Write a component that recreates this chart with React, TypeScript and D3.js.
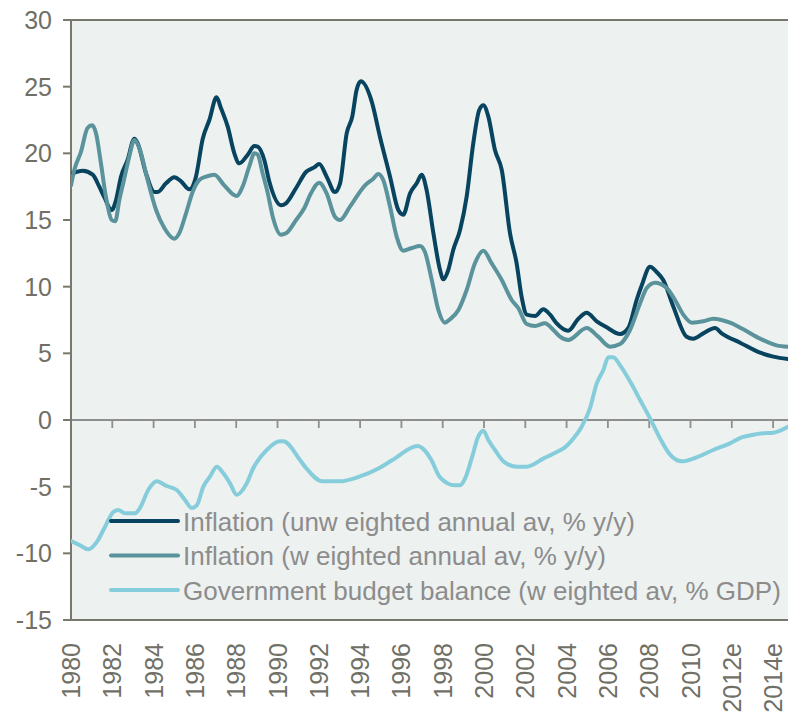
import React from "react";
import * as d3 from "d3";

// Unweighted inflation (% y/y)
const unwYears = [1980, 1980.57, 1981.05, 1981.37, 1981.6, 1981.97, 1982.18, 1982.42, 1982.74, 1983.07, 1983.23, 1983.63, 1984.04, 1984.2, 1984.6, 1985.0, 1985.33, 1985.73, 1986.05, 1986.38, 1986.7, 1987.05, 1987.26, 1987.59, 1987.91, 1988.15, 1988.56, 1988.88, 1989.04, 1989.36, 1989.6, 1990.17, 1990.41, 1990.9, 1991.38, 1991.78, 1992.02, 1992.38, 1992.78, 1993.03, 1993.35, 1993.62, 1993.83, 1994.03, 1994.56, 1994.96, 1995.45, 1995.85, 1996.09, 1996.42, 1996.74, 1996.98, 1997.22, 1997.55, 1997.87, 1998.03, 1998.27, 1998.51, 1998.84, 1999.16, 1999.48, 1999.77, 1999.97, 2000.21, 2000.53, 2000.86, 2001.26, 2001.58, 2001.82, 2002.07, 2002.47, 2002.87, 2003.2, 2003.52, 2004.08, 2004.57, 2004.97, 2005.46, 2005.94, 2006.59, 2006.99, 2007.39, 2007.64, 2008.04, 2008.36, 2008.68, 2009.17, 2009.81, 2010.13, 2010.62, 2011.19, 2011.51, 2012.4, 2013.37, 2014.01, 2014.72];
const unwValues = [18.45, 18.7, 18.4, 17.5, 16.75, 15.75, 16.5, 18.25, 19.5, 21.1, 20.75, 18.5, 17.1, 17.1, 17.75, 18.2, 17.9, 17.3, 18.25, 21.1, 22.5, 24.2, 23.4, 22.0, 20.0, 19.25, 19.9, 20.55, 20.5, 19.5, 17.9, 16.1, 16.25, 17.4, 18.6, 18.95, 19.2, 18.25, 17.1, 17.75, 21.5, 22.75, 24.75, 25.4, 23.9, 21.25, 18.25, 15.75, 15.4, 17.0, 17.75, 18.4, 17.25, 14.0, 11.25, 10.55, 11.25, 12.75, 14.25, 16.75, 20.75, 23.25, 23.6, 22.75, 20.25, 18.75, 14.0, 11.75, 9.25, 7.9, 7.8, 8.3, 7.9, 7.25, 6.7, 7.6, 8.05, 7.4, 6.95, 6.45, 6.9, 9.0, 10.1, 11.5, 11.1, 10.5, 8.5, 6.25, 6.1, 6.5, 6.9, 6.5, 5.8, 5.05, 4.75, 4.57];

// Weighted inflation (% y/y)
const wYears = [1980, 1980.16, 1980.48, 1980.8, 1981.02, 1981.21, 1981.45, 1981.69, 1981.97, 1982.14, 1982.34, 1982.58, 1982.82, 1983.07, 1983.31, 1983.71, 1984.12, 1984.52, 1985.0, 1985.24, 1985.57, 1985.89, 1986.21, 1986.54, 1986.94, 1987.42, 1988.02, 1988.31, 1988.63, 1988.88, 1989.04, 1989.28, 1989.53, 1989.77, 1990.17, 1990.41, 1990.9, 1991.3, 1991.62, 1992.02, 1992.38, 1992.78, 1993.03, 1993.51, 1994.24, 1994.64, 1994.88, 1995.12, 1995.45, 1995.77, 1996.09, 1996.5, 1996.9, 1997.14, 1997.47, 1997.79, 1998.11, 1998.35, 1998.76, 1999.16, 1999.56, 1999.97, 2000.37, 2000.86, 2001.34, 2001.66, 2002.07, 2002.47, 2002.95, 2003.36, 2003.68, 2004.08, 2004.97, 2005.53, 2006.1, 2006.59, 2007.07, 2007.56, 2007.88, 2008.28, 2008.85, 2009.25, 2009.65, 2010.06, 2010.62, 2011.1, 2011.91, 2012.56, 2013.37, 2014.17, 2014.72];
const wValues = [17.6, 18.75, 20.1, 21.9, 22.1, 21.5, 19.25, 16.75, 15.0, 14.9, 16.5, 18.1, 19.75, 21.0, 20.4, 18.0, 15.75, 14.4, 13.6, 14.0, 15.5, 17.1, 18.0, 18.25, 18.4, 17.6, 16.8, 17.5, 19.0, 20.0, 19.9, 18.5, 17.0, 15.25, 13.9, 14.0, 15.0, 15.9, 17.0, 17.8, 17.0, 15.25, 15.0, 16.0, 17.6, 18.1, 18.45, 18.0, 16.0, 13.75, 12.7, 12.9, 13.05, 12.6, 10.5, 8.25, 7.3, 7.55, 8.25, 9.75, 11.75, 12.7, 11.75, 10.5, 9.0, 8.4, 7.2, 7.05, 7.25, 6.75, 6.25, 6.0, 6.9, 6.25, 5.5, 5.7, 6.75, 8.75, 9.9, 10.3, 9.9, 9.0, 7.9, 7.3, 7.4, 7.6, 7.3, 6.8, 6.1, 5.6, 5.5];

// Government budget balance (% GDP)
const bYears = [1980, 1980.44, 1980.84, 1981.27, 1981.65, 1982.05, 1982.29, 1982.62, 1983.1, 1983.34, 1983.74, 1984.15, 1984.63, 1985.12, 1985.52, 1985.85, 1986.09, 1986.41, 1986.73, 1987.06, 1987.38, 1987.7, 1988.02, 1988.51, 1988.83, 1989.48, 1990.12, 1990.28, 1991.09, 1991.38, 1992.19, 1993.0, 1993.96, 1994.93, 1995.57, 1996.79, 1997.11, 1997.45, 1997.87, 1998.6, 1998.84, 1999.08, 1999.4, 1999.72, 1999.97, 2000.21, 2000.53, 2000.94, 2001.58, 2002.07, 2002.87, 2003.52, 2003.92, 2004.32, 2004.73, 2005.13, 2005.46, 2005.78, 2006.02, 2006.26, 2006.59, 2007.07, 2007.56, 2008.04, 2008.53, 2009.01, 2009.58, 2010.38, 2011.1, 2011.91, 2012.48, 2013.04, 2013.53, 2014.01, 2014.72];
const bValues = [-9.07, -9.4, -9.7, -9.1, -8.0, -6.9, -6.75, -7.0, -7.0, -6.6, -5.25, -4.6, -4.95, -5.25, -6.0, -6.6, -6.4, -5.0, -4.25, -3.5, -4.0, -4.75, -5.6, -4.75, -3.6, -2.25, -1.6, -1.6, -3.0, -3.6, -4.6, -4.6, -4.25, -3.6, -3.0, -1.95, -2.25, -3.0, -4.3, -4.9, -4.9, -4.4, -2.9, -1.25, -0.8, -1.5, -2.25, -3.1, -3.5, -3.5, -2.9, -2.4, -2.05, -1.4, -0.5, 0.875, 2.75, 3.75, 4.7, 4.7, 4.1, 2.9, 1.5, 0.125, -1.4, -2.6, -3.1, -2.75, -2.25, -1.75, -1.3, -1.1, -1.0, -0.95, -0.5];

const yTicks = [30, 25, 20, 15, 10, 5, 0, -5, -10, -15];
const xTickYears = [1980, 1982, 1984, 1986, 1988, 1990, 1992, 1994, 1996, 1998, 2000, 2002, 2004, 2006, 2008, 2010, 2012, 2014];
const xTickLabels = ["1980", "1982", "1984", "1986", "1988", "1990", "1992", "1994", "1996", "1998", "2000", "2002", "2004", "2006", "2008", "2010", "2012e", "2014e"];

const seriesNames = [
  "Inflation (unw eighted annual av, % y/y)",
  "Inflation (w eighted annual av, % y/y)",
  "Government budget balance (w eighted av, % GDP)",
];
const seriesColors = ["#08445f", "#5a939b", "#86cddc"];

const W = 788;
const H = 719;
const left = 71;
const top = 20;
const bottom = 620;
const FONT = "'Liberation Sans', Arial, sans-serif";

export default function App() {
  const x = d3.scaleLinear().domain([1980, 2014]).range([left, left + 34 * 20.65]);
  const y = d3.scaleLinear().domain([-15, 30]).range([bottom, top]);

  const mk = (ys: number[], vs: number[]) =>
    d3
      .line<number>()
      .x((_, i) => x(ys[i]))
      .y((v) => y(v))
      .curve(d3.curveMonotoneX)(vs) || "";

  const paths = [mk(unwYears, unwValues), mk(wYears, wValues), mk(bYears, bValues)];
  const axisColor = "#78786c";
  const labelColor = "#707066";

  return (
    <svg
      width={W}
      height={H}
      style={{ position: "absolute", left: 0, top: 0, background: "#ffffff" }}
      fontFamily={FONT}
    >
      <defs>
        <clipPath id="plotclip">
          <rect x={left} y={top} width={W - left} height={bottom - top} />
        </clipPath>
      </defs>
      <rect x={left} y={top} width={W - left} height={bottom - top} fill="#edf1f0" />

      {/* zero line with ticks */}
      <line x1={left} x2={W} y1={y(0)} y2={y(0)} stroke="#8e8e8e" strokeWidth={1.8} />
      {xTickYears.map((yr) => (
        <line key={"zt" + yr} x1={x(yr)} x2={x(yr)} y1={y(0)} y2={y(0) + 8} stroke="#8e8e8e" strokeWidth={1.8} />
      ))}

      {/* frame */}
      <line x1={63} x2={W} y1={top} y2={top} stroke={axisColor} strokeWidth={2} />
      <line x1={63} x2={W} y1={bottom} y2={bottom} stroke={axisColor} strokeWidth={2} />
      <line x1={left} x2={left} y1={top} y2={bottom} stroke={axisColor} strokeWidth={2} />
      {yTicks.map((t) => (
        <g key={"yt" + t}>
          <line x1={63} x2={left} y1={y(t)} y2={y(t)} stroke={axisColor} strokeWidth={2} />
          <text x={52} y={y(t) + 9} textAnchor="end" fontSize={25} fill={labelColor}>
            {t}
          </text>
        </g>
      ))}

      {/* series */}
      <g clipPath="url(#plotclip)" fill="none" strokeLinejoin="round" strokeLinecap="round">
        {paths.map((p, i) => (
          <path key={"s" + i} d={p} stroke={seriesColors[i]} strokeWidth={4} />
        ))}
      </g>

      {/* x labels */}
      {xTickYears.map((yr, i) => (
        <text
          key={"xl" + yr}
          transform={`translate(${x(yr) + 9},643) rotate(-90)`}
          textAnchor="end"
          fontSize={25}
          fill={labelColor}
        >
          {xTickLabels[i]}
        </text>
      ))}

      {/* legend */}
      {seriesNames.map((n, i) => {
        const ly = 521 + i * 34.5;
        return (
          <g key={"lg" + i}>
            <line x1={111} x2={178} y1={ly} y2={ly} stroke={seriesColors[i]} strokeWidth={4} strokeLinecap="round" />
            <text x={183} y={ly + 9.5} fontSize={26} fill="#8c8c8c">
              {n}
            </text>
          </g>
        );
      })}
    </svg>
  );
}
